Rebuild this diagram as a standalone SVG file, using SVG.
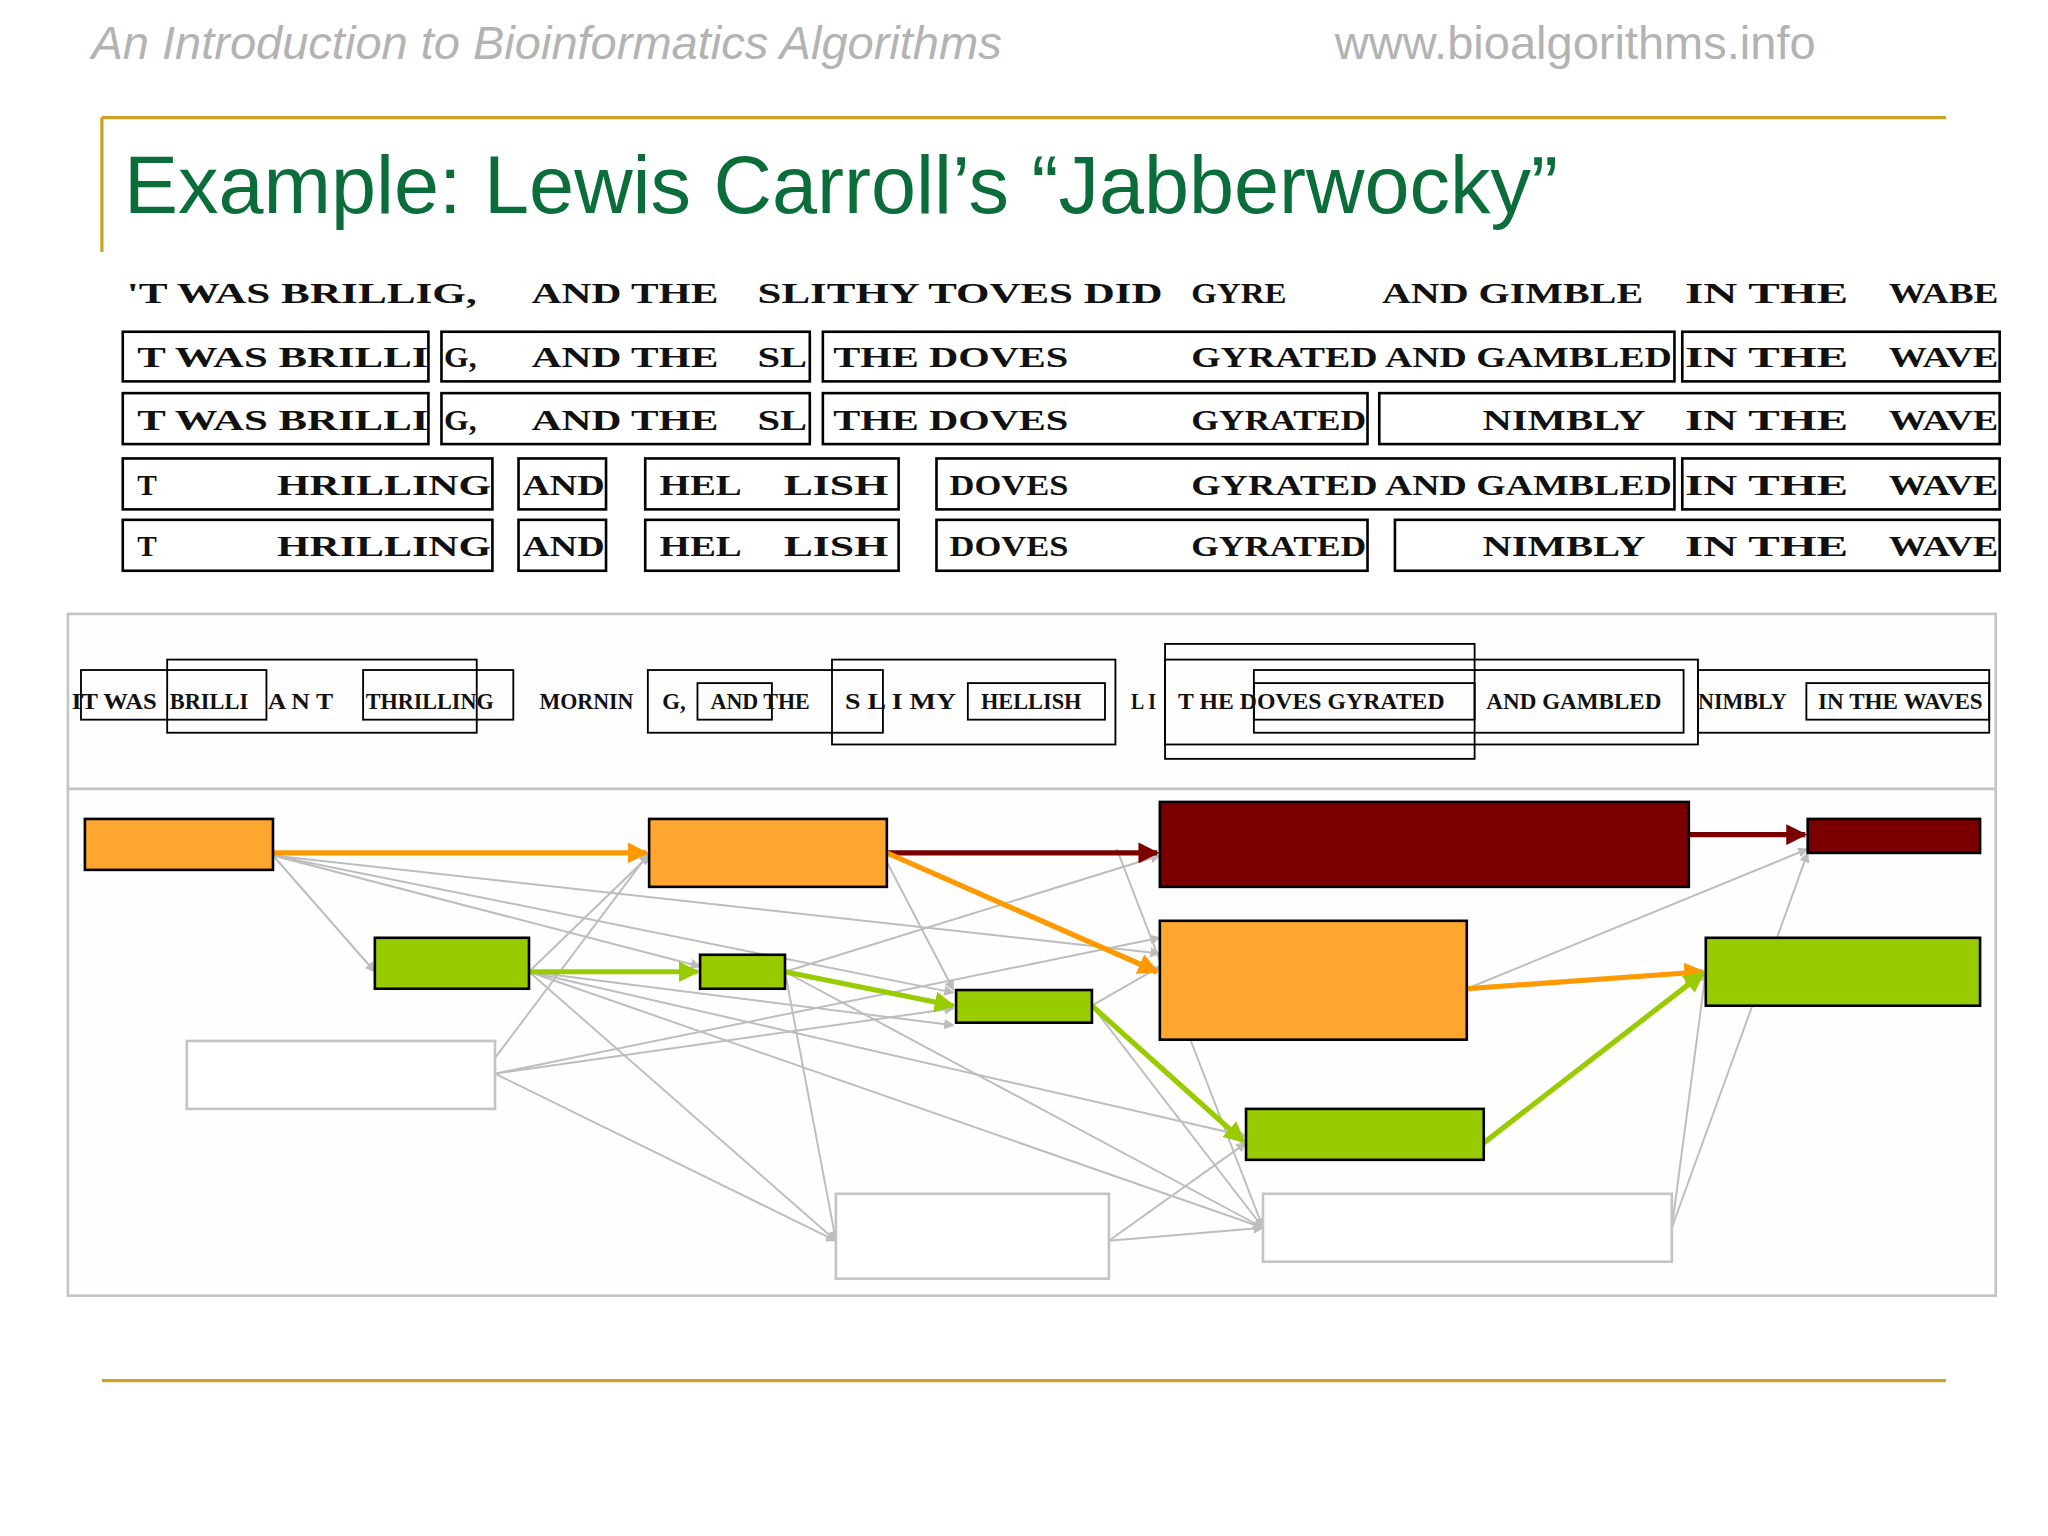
<svg xmlns="http://www.w3.org/2000/svg" width="2048" height="1536" viewBox="0 0 2048 1536">
<style>
.hd{font-family:"Liberation Sans",Arial,sans-serif;fill:#b3b3b3;font-size:36px}
.t{font-family:"Liberation Serif","Times New Roman",serif;font-weight:bold;font-size:22px;fill:#111}
.s{font-family:"Liberation Serif","Times New Roman",serif;font-weight:bold;font-size:17px;fill:#111}
.bx{fill:none;stroke:#000;stroke-width:2}
.nb{fill:none;stroke:#000;stroke-width:1.4}
.g{stroke:#bdbdbd;stroke-width:1.5;fill:none}
.n{stroke:#000;stroke-width:2}
</style>
<defs>
<marker id="ag" viewBox="0 0 10 10" refX="9" refY="5" markerWidth="8" markerHeight="8" markerUnits="userSpaceOnUse" orient="auto"><path d="M0,0L10,5L0,10z" fill="#bdbdbd"/></marker>
<marker id="ao" viewBox="0 0 10 10" refX="9" refY="5" markerWidth="4" markerHeight="4" orient="auto"><path d="M0,0L10,5L0,10z" fill="#ff9900"/></marker>
<marker id="ar" viewBox="0 0 10 10" refX="9" refY="5" markerWidth="4" markerHeight="4" orient="auto"><path d="M0,0L10,5L0,10z" fill="#7a0000"/></marker>
<marker id="an" viewBox="0 0 10 10" refX="9" refY="5" markerWidth="4" markerHeight="4" orient="auto"><path d="M0,0L10,5L0,10z" fill="#99cc00"/></marker>
</defs>
<rect width="2048" height="1536" fill="#fff"/>
<g transform="scale(1.30612)">
<text class="hd" x="70" y="45" font-style="italic">An Introduction to Bioinformatics Algorithms</text>
<text class="hd" x="1022" y="45">www.bioalgorithms.info</text>
<path d="M78,90H1490M78,90V193M78,1057H1490" stroke="#c9a227" stroke-width="2.5" fill="none"/>
<text x="95" y="163" font-family="Liberation Sans,Arial,sans-serif" font-size="62" fill="#0b6e3a">Example: Lewis Carroll’s “Jabberwocky”</text>

<g id="lines">
<text class="t" x="97" y="232" textLength="268" lengthAdjust="spacingAndGlyphs">'T WAS BRILLIG,</text>
<text class="t" x="407" y="232" textLength="143" lengthAdjust="spacingAndGlyphs">AND THE</text>
<text class="t" x="580" y="232" textLength="310" lengthAdjust="spacingAndGlyphs">SLITHY TOVES DID</text>
<text class="t" x="912" y="232" textLength="73" lengthAdjust="spacingAndGlyphs">GYRE</text>
<text class="t" x="1058" y="232" textLength="200" lengthAdjust="spacingAndGlyphs">AND GIMBLE</text>
<text class="t" x="1290" y="232" textLength="125" lengthAdjust="spacingAndGlyphs">IN THE</text>
<text class="t" x="1446" y="232" textLength="84" lengthAdjust="spacingAndGlyphs">WABE</text>

<rect class="bx" x="94" y="254" width="234" height="38"/><rect class="bx" x="338" y="254" width="282" height="38"/><rect class="bx" x="630" y="254" width="652" height="38"/><rect class="bx" x="1288" y="254" width="243" height="38"/>
<text class="t" x="105" y="281" textLength="223" lengthAdjust="spacingAndGlyphs">T WAS BRILLI</text>
<text class="t" x="340" y="281" textLength="25" lengthAdjust="spacingAndGlyphs">G,</text>
<text class="t" x="407" y="281" textLength="143" lengthAdjust="spacingAndGlyphs">AND THE</text>
<text class="t" x="580" y="281" textLength="38" lengthAdjust="spacingAndGlyphs">SL</text>
<text class="t" x="638" y="281" textLength="180" lengthAdjust="spacingAndGlyphs">THE DOVES</text>
<text class="t" x="912" y="281" textLength="368" lengthAdjust="spacingAndGlyphs">GYRATED AND GAMBLED</text>
<text class="t" x="1290" y="281" textLength="125" lengthAdjust="spacingAndGlyphs">IN THE</text>
<text class="t" x="1446" y="281" textLength="84" lengthAdjust="spacingAndGlyphs">WAVE</text>

<rect class="bx" x="94" y="301" width="234" height="39"/><rect class="bx" x="338" y="301" width="282" height="39"/><rect class="bx" x="630" y="301" width="417" height="39"/><rect class="bx" x="1056" y="301" width="475" height="39"/>
<text class="t" x="105" y="329" textLength="223" lengthAdjust="spacingAndGlyphs">T WAS BRILLI</text>
<text class="t" x="340" y="329" textLength="25" lengthAdjust="spacingAndGlyphs">G,</text>
<text class="t" x="407" y="329" textLength="143" lengthAdjust="spacingAndGlyphs">AND THE</text>
<text class="t" x="580" y="329" textLength="38" lengthAdjust="spacingAndGlyphs">SL</text>
<text class="t" x="638" y="329" textLength="180" lengthAdjust="spacingAndGlyphs">THE DOVES</text>
<text class="t" x="912" y="329" textLength="134" lengthAdjust="spacingAndGlyphs">GYRATED</text>
<text class="t" x="1135" y="329" textLength="125" lengthAdjust="spacingAndGlyphs">NIMBLY</text>
<text class="t" x="1290" y="329" textLength="125" lengthAdjust="spacingAndGlyphs">IN THE</text>
<text class="t" x="1446" y="329" textLength="84" lengthAdjust="spacingAndGlyphs">WAVE</text>

<rect class="bx" x="94" y="351" width="283" height="39"/><rect class="bx" x="397" y="351" width="67" height="39"/><rect class="bx" x="494" y="351" width="194" height="39"/><rect class="bx" x="717" y="351" width="565" height="39"/><rect class="bx" x="1288" y="351" width="243" height="39"/>
<text class="t" x="105" y="379" textLength="15" lengthAdjust="spacingAndGlyphs">T</text>
<text class="t" x="212" y="379" textLength="164" lengthAdjust="spacingAndGlyphs">HRILLING</text>
<text class="t" x="400" y="379" textLength="63" lengthAdjust="spacingAndGlyphs">AND</text>
<text class="t" x="505" y="379" textLength="63" lengthAdjust="spacingAndGlyphs">HEL</text>
<text class="t" x="600" y="379" textLength="80" lengthAdjust="spacingAndGlyphs">LISH</text>
<text class="t" x="727" y="379" textLength="91" lengthAdjust="spacingAndGlyphs">DOVES</text>
<text class="t" x="912" y="379" textLength="368" lengthAdjust="spacingAndGlyphs">GYRATED AND GAMBLED</text>
<text class="t" x="1290" y="379" textLength="125" lengthAdjust="spacingAndGlyphs">IN THE</text>
<text class="t" x="1446" y="379" textLength="84" lengthAdjust="spacingAndGlyphs">WAVE</text>

<rect class="bx" x="94" y="398" width="283" height="39"/><rect class="bx" x="397" y="398" width="67" height="39"/><rect class="bx" x="494" y="398" width="194" height="39"/><rect class="bx" x="717" y="398" width="330" height="39"/><rect class="bx" x="1068" y="398" width="463" height="39"/>
<text class="t" x="105" y="426" textLength="15" lengthAdjust="spacingAndGlyphs">T</text>
<text class="t" x="212" y="426" textLength="164" lengthAdjust="spacingAndGlyphs">HRILLING</text>
<text class="t" x="400" y="426" textLength="63" lengthAdjust="spacingAndGlyphs">AND</text>
<text class="t" x="505" y="426" textLength="63" lengthAdjust="spacingAndGlyphs">HEL</text>
<text class="t" x="600" y="426" textLength="80" lengthAdjust="spacingAndGlyphs">LISH</text>
<text class="t" x="727" y="426" textLength="91" lengthAdjust="spacingAndGlyphs">DOVES</text>
<text class="t" x="912" y="426" textLength="134" lengthAdjust="spacingAndGlyphs">GYRATED</text>
<text class="t" x="1135" y="426" textLength="125" lengthAdjust="spacingAndGlyphs">NIMBLY</text>
<text class="t" x="1290" y="426" textLength="125" lengthAdjust="spacingAndGlyphs">IN THE</text>
<text class="t" x="1446" y="426" textLength="84" lengthAdjust="spacingAndGlyphs">WAVE</text>
</g>

<rect x="52" y="470" width="1476" height="522" fill="#fefefe" stroke="#c4c4c4" stroke-width="2"/>
<line x1="52" y1="604" x2="1528" y2="604" stroke="#c4c4c4" stroke-width="2"/>

<g id="merged">
<rect class="nb" x="62" y="513" width="142" height="38"/><rect class="nb" x="128" y="505" width="237" height="56"/><rect class="nb" x="278" y="513" width="115" height="38"/>
<rect class="nb" x="496" y="513" width="180" height="48"/><rect class="nb" x="534" y="523" width="57" height="28" stroke-width="2"/>
<rect class="nb" x="637" y="505" width="217" height="65" stroke-width="2"/><rect class="nb" x="741" y="523" width="105" height="28"/>
<rect class="nb" x="892" y="493" width="237" height="88"/><rect class="nb" x="892" y="505" width="408" height="65" stroke-width="2.5"/>
<rect class="nb" x="960" y="513" width="329" height="48"/><rect class="nb" x="960" y="523" width="169" height="28"/>
<rect class="nb" x="1300" y="513" width="223" height="48"/><rect class="nb" x="1383" y="523" width="140" height="28"/>
<text class="s" x="55" y="543" textLength="65" lengthAdjust="spacingAndGlyphs">IT WAS</text>
<text class="s" x="130" y="543" textLength="60" lengthAdjust="spacingAndGlyphs">BRILLI</text>
<text class="s" x="205" y="543" textLength="50" lengthAdjust="spacingAndGlyphs">A N T</text>
<text class="s" x="280" y="543" textLength="98" lengthAdjust="spacingAndGlyphs">THRILLING</text>
<text class="s" x="413" y="543" textLength="72" lengthAdjust="spacingAndGlyphs">MORNIN</text>
<text class="s" x="507" y="543" textLength="18" lengthAdjust="spacingAndGlyphs">G,</text>
<text class="s" x="544" y="543" textLength="76" lengthAdjust="spacingAndGlyphs">AND THE</text>
<text class="s" x="647" y="543" textLength="85" lengthAdjust="spacingAndGlyphs">S L I MY</text>
<text class="s" x="751" y="543" textLength="77" lengthAdjust="spacingAndGlyphs">HELLISH</text>
<text class="s" x="866" y="543" textLength="19" lengthAdjust="spacingAndGlyphs">L I</text>
<text class="s" x="902" y="543" textLength="204" lengthAdjust="spacingAndGlyphs">T HE DOVES GYRATED</text>
<text class="s" x="1138" y="543" textLength="134" lengthAdjust="spacingAndGlyphs">AND GAMBLED</text>
<text class="s" x="1300" y="543" textLength="68" lengthAdjust="spacingAndGlyphs">NIMBLY</text>
<text class="s" x="1392" y="543" textLength="126" lengthAdjust="spacingAndGlyphs">IN THE WAVES</text>
</g>

<g id="connectors">
<g class="g" marker-end="url(#ag)">
<path d="M209,655L287,744"/><path d="M209,655L536,740"/><path d="M209,655L730,760"/><path d="M209,655L888,730"/>
<path d="M379,810L497,653"/><path d="M405,744L497,655"/>
<path d="M405,744L730,785"/><path d="M405,744L640,950"/><path d="M405,744L954,870"/><path d="M405,744L967,940"/>
<path d="M379,822L888,718"/><path d="M379,822L730,772"/><path d="M379,822L640,950"/>
<path d="M601,744L888,655"/><path d="M601,744L640,950"/><path d="M601,744L967,940"/>
<path d="M679,660L730,758"/><path d="M855,650L967,940"/>
<path d="M836,770L888,740"/><path d="M836,770L967,940"/>
<path d="M849,950L954,875"/><path d="M849,950L967,940"/>
<path d="M1123,757L1384,650"/><path d="M1280,940L1306,744"/><path d="M1280,940L1384,653"/>
</g>
<path d="M209,653H495" stroke="#ff9900" stroke-width="4" marker-end="url(#ao)"/>
<path d="M679,653H886" stroke="#7a0000" stroke-width="4" marker-end="url(#ar)"/>
<path d="M1293,639H1382" stroke="#7a0000" stroke-width="4" marker-end="url(#ar)"/>
<path d="M679,653L886,744" stroke="#ff9900" stroke-width="4" marker-end="url(#ao)"/>
<path d="M1123,757L1304,744" stroke="#ff9900" stroke-width="4" marker-end="url(#ao)"/>
<path d="M405,744H534" stroke="#99cc00" stroke-width="4" marker-end="url(#an)"/>
<path d="M601,744L730,770" stroke="#99cc00" stroke-width="4" marker-end="url(#an)"/>
<path d="M836,770L952,874" stroke="#99cc00" stroke-width="4" marker-end="url(#an)"/>
<path d="M1136,875L1304,745" stroke="#99cc00" stroke-width="4" marker-end="url(#an)"/>
</g>

<g id="A"><rect class="n" x="65" y="627" width="144" height="39" fill="#ffa630"/></g>
<g id="B"><rect class="n" x="497" y="627" width="182" height="52" fill="#ffa630"/></g>
<g id="C"><rect class="n" x="888" y="614" width="405" height="65" fill="#7a0000"/></g>
<g id="D"><rect class="n" x="1384" y="627" width="132" height="26" fill="#7a0000"/></g>
<g id="E"><rect class="n" x="287" y="718" width="118" height="39" fill="#99cc00"/></g>
<g id="F"><rect class="n" x="536" y="731" width="65" height="26" fill="#99cc00"/></g>
<g id="G"><rect class="n" x="732" y="758" width="104" height="25" fill="#99cc00"/></g>
<g id="H"><rect class="n" x="888" y="705" width="235" height="91" fill="#ffa630"/></g>
<g id="I"><rect class="n" x="1306" y="718" width="210" height="52" fill="#99cc00"/></g>
<g id="J"><rect class="n" x="954" y="849" width="182" height="39" fill="#99cc00"/></g>
<g id="W1"><rect x="143" y="797" width="236" height="52" fill="#fff" stroke="#c4c4c4" stroke-width="2"/></g>
<g id="W2"><rect x="640" y="914" width="209" height="65" fill="#fff" stroke="#c4c4c4" stroke-width="2"/></g>
<g id="W3"><rect x="967" y="914" width="313" height="52" fill="#fff" stroke="#c4c4c4" stroke-width="2"/></g>
</g>
</svg>
